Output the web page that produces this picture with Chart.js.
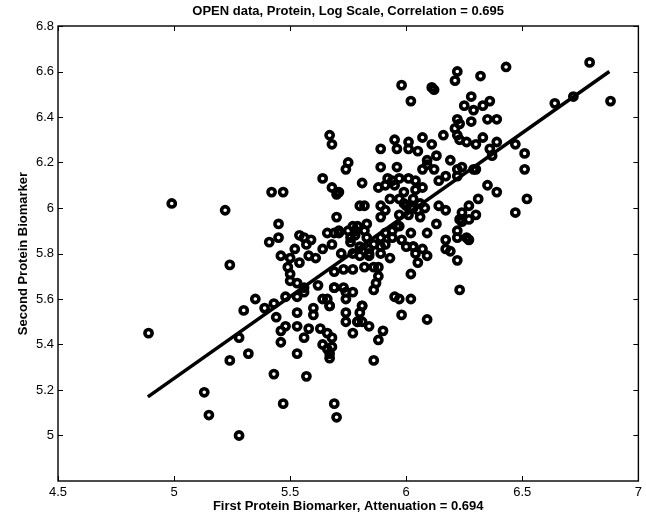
<!DOCTYPE html>
<html>
<head>
<meta charset="utf-8">
<script src="https://cdn.jsdelivr.net/npm/chart.js@4.4.1/dist/chart.umd.min.js"></script>
<style>
  html, body { margin: 0; padding: 0; background: #fff; }
</style>
</head>
<body>
<canvas id="chart" width="646" height="515"></canvas>
<script>
// values
const firstBiomarker = [
  4.89, 4.99, 5.13, 5.15, 5.22, 5.24, 5.24, 5.28, 5.28, 5.30,
  5.32, 5.35, 5.39, 5.41, 5.42, 5.43, 5.43, 5.44, 5.45, 5.45,
  5.46, 5.46, 5.46, 5.47, 5.47, 5.48, 5.48, 5.49, 5.50, 5.50,
  5.50, 5.52, 5.53, 5.53, 5.53, 5.53, 5.53, 5.54, 5.54, 5.56,
  5.56, 5.56, 5.57, 5.57, 5.58, 5.58, 5.59, 5.60, 5.60, 5.61,
  5.62, 5.63, 5.64, 5.64, 5.64, 5.64, 5.66, 5.66, 5.66, 5.67,
  5.67, 5.67, 5.67, 5.68, 5.68, 5.68, 5.68, 5.69, 5.69, 5.69,
  5.69, 5.70, 5.70, 5.70, 5.71, 5.71, 5.73, 5.73, 5.74, 5.74,
  5.74, 5.74, 5.75, 5.75, 5.76, 5.77, 5.77, 5.77, 5.78, 5.79,
  5.80, 5.80, 5.80, 5.81, 5.81, 5.81, 5.82, 5.83, 5.84, 5.84,
  5.84, 5.86, 5.86, 5.86, 5.87, 5.88, 5.88, 5.88, 5.88, 5.89,
  5.89, 5.89, 5.89, 5.90, 5.91, 5.91, 5.93, 5.94, 5.94, 5.95,
  5.95, 5.96, 5.96, 5.97, 5.97, 5.97, 5.98, 5.98, 6.01, 6.01,
  6.01, 6.02, 6.02, 6.02, 6.02, 6.02, 6.03, 6.04, 6.05, 6.05,
  6.07, 6.07, 6.07, 6.09, 6.09, 6.09, 6.09, 6.09, 6.11, 6.12,
  6.11, 6.12, 6.13, 6.13, 6.14, 6.14, 6.16, 6.17, 6.17, 6.17,
  6.19, 6.19, 6.21, 6.21, 6.22, 6.22, 6.22, 6.22, 6.22, 6.22,
  6.22, 6.22, 6.23, 6.23, 6.23, 6.23, 6.24, 6.24, 6.24, 6.25,
  6.26, 6.26, 6.27, 6.27, 6.27, 6.28, 6.28, 6.29, 6.29, 6.30,
  6.30, 6.30, 6.31, 6.32, 6.33, 6.33, 6.35, 6.35, 6.36, 6.36,
  6.37, 6.39, 6.39, 6.39, 6.43, 6.47, 6.47, 6.51, 6.51, 6.52,
  6.64, 6.72, 6.79, 6.88,
  5.80, 5.82, 5.89, 5.91, 5.93, 5.97, 6.00, 6.03, 6.05, 6.01,
  5.97, 6.04, 6.07, 5.89, 5.79, 5.77, 5.76, 5.71, 5.66, 5.68,
  5.56, 5.83, 5.86, 5.89, 5.91, 5.94, 5.96, 5.98, 6.00, 6.03,
  6.04, 6.17, 5.84, 5.77, 5.72, 5.67, 5.69, 5.74, 5.81, 5.79,
  6.06, 6.08, 5.99, 5.95, 5.92, 5.99, 6.06, 5.78, 5.82, 6.03
];
const secondBiomarker = [
  5.45, 6.02, 5.19, 5.09, 5.99, 5.75, 5.33, 5.43, 5.00, 5.55,
  5.36, 5.60, 5.56, 5.85, 6.07, 5.27, 5.58, 5.52, 5.93, 5.87,
  5.79, 5.46, 5.41, 6.07, 5.14, 5.61, 5.48, 5.74, 5.78, 5.71,
  5.68, 5.82, 5.48, 5.36, 5.54, 5.61, 5.67, 5.88, 5.76, 5.65,
  5.43, 5.63, 5.84, 5.26, 5.79, 5.47, 5.86, 5.56, 5.53, 5.78,
  5.66, 5.47, 6.13, 5.82, 5.60, 5.40, 5.60, 5.45, 5.38, 6.32,
  5.57, 5.36, 5.34, 6.28, 6.09, 5.43, 5.39, 5.65, 5.72, 5.89,
  5.14, 5.08, 6.06, 5.96, 6.07, 5.89, 5.65, 5.73, 5.60, 5.54,
  5.50, 6.17, 6.20, 5.90, 5.85, 5.63, 5.73, 5.45, 5.90, 5.50,
  5.54, 5.83, 5.79, 5.57, 5.50, 6.11, 5.74, 5.93, 5.48, 5.82,
  5.79, 5.33, 5.64, 5.74, 5.67, 5.70, 5.42, 5.74, 6.09, 6.26,
  6.18, 5.87, 5.80, 5.46, 6.10, 5.84, 5.78, 5.90, 6.12, 6.30,
  5.61, 6.26, 6.18, 5.92, 6.13, 5.60, 5.53, 6.54, 6.29, 6.26,
  6.13, 6.47, 6.00, 5.89, 5.71, 5.60, 5.83, 6.12, 6.25, 5.76,
  6.31, 6.17, 5.82, 6.19, 6.21, 5.89, 5.79, 5.51, 6.53, 6.52,
  6.28, 6.17, 6.23, 5.93, 6.12, 6.01, 6.32, 6.14, 5.99, 5.86,
  6.21, 5.81, 6.35, 6.56, 6.60, 6.39, 6.32, 6.17, 6.14, 5.90,
  5.77, 5.87, 6.37, 5.95, 6.30, 5.64, 6.18, 5.94, 5.98, 6.45,
  5.87, 6.29, 5.95, 5.86, 6.01, 6.38, 6.49, 6.43, 6.17, 6.28,
  5.97, 6.17, 6.04, 6.58, 6.45, 6.31, 6.10, 6.39, 6.47, 6.26,
  6.23, 6.39, 6.29, 6.07, 6.62, 6.28, 5.98, 6.24, 6.17, 6.04,
  6.46, 6.49, 6.64, 6.47,
  6.01, 6.01, 6.01, 5.99, 6.04, 6.04, 6.01, 6.04, 5.99, 5.97,
  5.97, 6.08, 6.09, 5.96, 5.92, 5.92, 5.87, 5.90, 5.89, 5.84,
  5.87, 5.87, 5.84, 5.83, 5.89, 5.87, 5.92, 5.86, 5.83, 5.83,
  5.80, 5.82, 5.80, 5.80, 5.80, 5.57, 5.65, 5.63, 5.57, 5.50,
  6.02, 6.00, 6.02, 6.10, 6.13, 6.07, 5.96, 5.88, 5.90, 6.00
];

// fitted line end points
const fitX = [4.887, 6.875];
const fitY = [5.17, 6.60];

const xTicks = [4.5, 5, 5.5, 6, 6.5, 7];
const xTickLabels = ['4.5', '5', '5.5', '6', '6.5', '7'];
const yTicks = [5, 5.2, 5.4, 5.6, 5.8, 6, 6.2, 6.4, 6.6, 6.8];
const yTickLabels = ['5', '5.2', '5.4', '5.6', '5.8', '6', '6.2', '6.4', '6.6', '6.8'];

const FONT = "'Liberation Sans', Arial, Helvetica, sans-serif";

// matlab style box with inward ticks on all four sides
const boxTicks = {
  id: 'boxTicks',
  afterDatasetsDraw(chart) {
    const { ctx, chartArea: a, scales: { x, y } } = chart;
    ctx.save();
    ctx.strokeStyle = '#000';
    ctx.lineWidth = 1.4;
    ctx.strokeRect(a.left, a.top, a.right - a.left, a.bottom - a.top);
    ctx.lineWidth = 1;
    ctx.beginPath();
    xTicks.forEach(v => {
      const px = Math.round(x.getPixelForValue(v)) + 0.5;
      ctx.moveTo(px, a.bottom); ctx.lineTo(px, a.bottom - 5);
      ctx.moveTo(px, a.top); ctx.lineTo(px, a.top + 5);
    });
    yTicks.forEach(v => {
      const py = Math.round(y.getPixelForValue(v)) + 0.5;
      ctx.moveTo(a.left, py); ctx.lineTo(a.left + 5, py);
      ctx.moveTo(a.right, py); ctx.lineTo(a.right - 5, py);
    });
    ctx.stroke();
    ctx.restore();
  }
};

const ctx = document.getElementById('chart');
const chart = new Chart(ctx, {
  data: {
    datasets: [{
      type: 'line',
      data: fitX.map((x, i) => ({ x, y: fitY[i] })),
      borderColor: '#000',
      borderWidth: 3.5,
      pointRadius: 0,
      fill: false,
      order: 0
    }, {
      type: 'scatter',
      data: firstBiomarker.map((x, i) => ({ x, y: secondBiomarker[i] })),
      pointStyle: 'circle',
      pointRadius: 3.6,
      pointBorderWidth: 3.6,
      borderColor: '#000',
      backgroundColor: 'rgba(0,0,0,0)',
      order: 1
    }]
  },
  options: {
    responsive: false,
    animation: false,
    devicePixelRatio: 1,
    layout: { padding: { top: 0, right: 7, bottom: 0, left: 0 } },
    plugins: {
      legend: { display: false },
      tooltip: { enabled: false },
      title: {
        display: true,
        fullSize: false,
        text: 'OPEN data, Protein, Log Scale, Correlation = 0.695',
        color: '#000',
        font: { family: FONT, size: 13, weight: 'bold' },
        padding: { top: 4, bottom: 6.4 }
      }
    },
    scales: {
      x: {
        type: 'linear',
        position: 'bottom',
        min: 4.5,
        max: 7,
        afterBuildTicks: s => { s.ticks = xTicks.map(v => ({ value: v })); },
        afterFit: s => { s.height = 34; },
        grid: { display: false, drawTicks: false },
        border: { display: false },
        ticks: {
          padding: 4,
          color: '#000',
          maxRotation: 0,
          font: { family: FONT, size: 13 },
          callback: (v, i) => xTickLabels[i]
        },
        title: {
          display: true,
          text: 'First Protein Biomarker, Attenuation = 0.694',
          color: '#000',
          font: { family: FONT, size: 13, weight: 'bold' },
          padding: { top: 0, bottom: 1 }
        }
      },
      y: {
        type: 'linear',
        position: 'left',
        min: 4.8,
        max: 6.8,
        afterBuildTicks: s => { s.ticks = yTicks.map(v => ({ value: v })); },
        afterFit: s => { s.width = 58; },
        grid: { display: false, drawTicks: false },
        border: { display: false },
        ticks: {
          padding: 4,
          color: '#000',
          font: { family: FONT, size: 13 },
          callback: (v, i) => yTickLabels[i]
        },
        title: {
          display: true,
          text: 'Second Protein Biomarker',
          color: '#000',
          font: { family: FONT, size: 13, weight: 'bold' },
          padding: { top: 16, bottom: 0 }
        }
      }
    }
  },
  plugins: [boxTicks]
});
</script>
</body>
</html>
